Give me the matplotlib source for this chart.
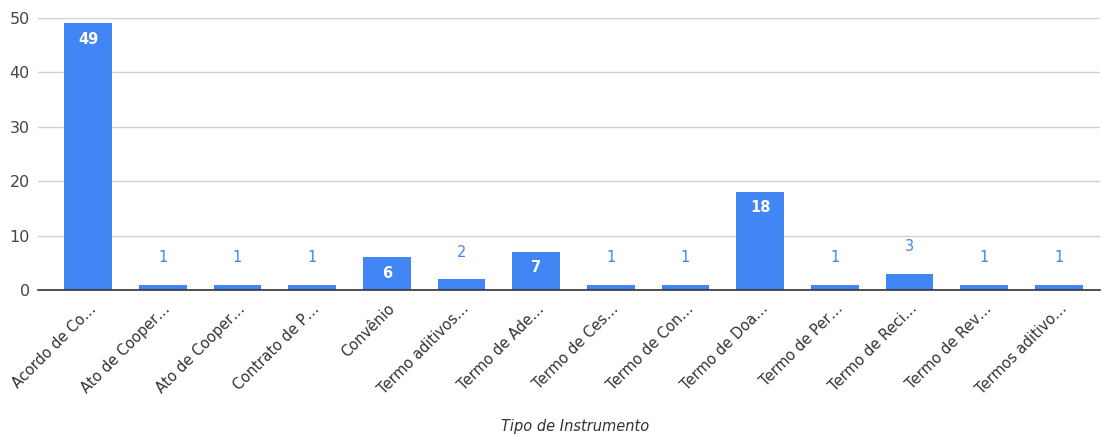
import matplotlib.pyplot as plt
import numpy as np

# dados
categorias = ["Acordo de Co…", "Ato de Cooper…", "Ato de Cooper…", "Contrato de P…",
              "Convênio", "Termo aditivos…", "Termo de Ade…", "Termo de Ces…",
              "Termo de Con…", "Termo de Doa…", "Termo de Per…", "Termo de Reci…",
              "Termo de Rev…", "Termos aditivo…"]
valores = [49, 1, 1, 1, 6, 2, 7, 1, 1, 18, 1, 3, 1, 1]

azul = "#4285F4"

fig = plt.figure(figsize=(11.02, 4.37), dpi=100)
ax = fig.add_axes([38/1102, 1 - 290/437, 1062/1102, 272/437])

x = np.arange(len(categorias))
ax.bar(x, valores, width=0.64, color=azul, zorder=3)

ax.set_xlim(-0.67, 13.55)
ax.set_ylim(0, 50)
ax.set_yticks([0, 10, 20, 30, 40, 50])
ax.yaxis.grid(True, color="#d0d0d0", linewidth=1, zorder=0)
for s in ["top", "right", "left"]:
    ax.spines[s].set_visible(False)
ax.spines["bottom"].set_color("#333333")
ax.spines["bottom"].set_linewidth(1.2)
ax.spines["bottom"].set_zorder(4)
ax.tick_params(axis="y", length=0, labelsize=11.5, colors="#444444", pad=6)
ax.tick_params(axis="x", length=0, pad=8)
ax.set_xticks(x)
ax.set_xticklabels(categorias, rotation=45, ha="right", rotation_mode="anchor",
                   fontsize=10.5, color="#333333")

# rótulos de valor
for xi, v in zip(x, valores):
    if v >= 5:
        ax.annotate(str(v), (xi, v), xytext=(0, -6), textcoords="offset points",
                    ha="center", va="top", color="white", fontsize=10.5,
                    fontweight="bold", zorder=5)
    else:
        ax.annotate(str(v), (xi, v), xytext=(0, 14), textcoords="offset points",
                    ha="center", va="bottom", color=azul, fontsize=10.5, zorder=5)

fig.text(575/1102, 1 - 427/437, "Tipo de Instrumento", ha="center", va="center",
         fontsize=10.5, style="italic", color="#333333")

fig.savefig("out.png", dpi=100)
